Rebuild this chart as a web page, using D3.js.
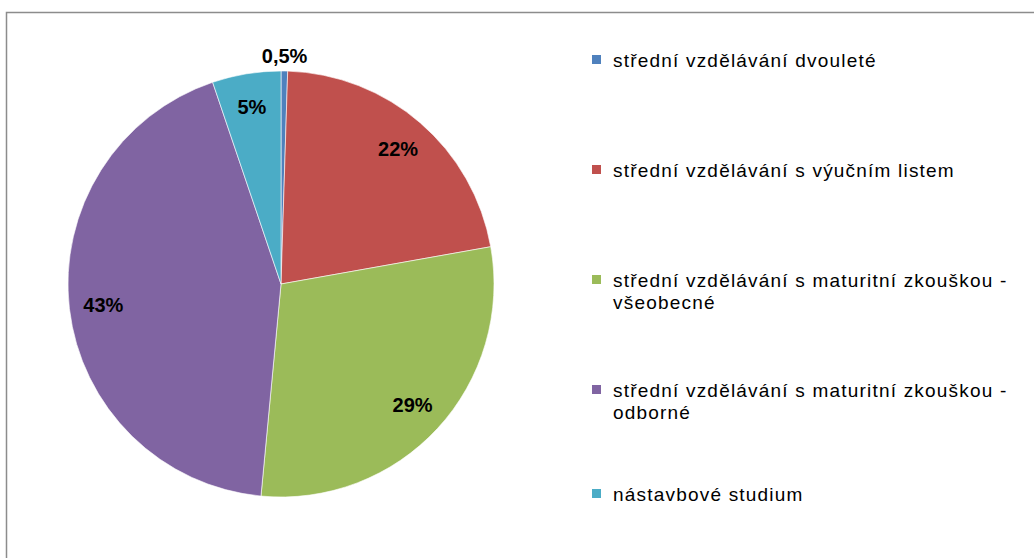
<!DOCTYPE html>
<html>
<head>
<meta charset="utf-8">
<script src="https://cdn.jsdelivr.net/npm/d3@7"></script>
<style>
  body { margin: 0; background: #fff; }
</style>
</head>
<body>
<div id="chart"></div>
<script>
const categories = [
  "střední vzdělávání dvouleté",
  "střední vzdělávání s výučním listem",
  "střední vzdělávání s maturitní zkouškou - všeobecné",
  "střední vzdělávání s maturitní zkouškou - odborné",
  "nástavbové studium"
];
const legendLines = [
  ["střední vzdělávání dvouleté"],
  ["střední vzdělávání s výučním listem"],
  ["střední vzdělávání s maturitní zkouškou -", "všeobecné"],
  ["střední vzdělávání s maturitní zkouškou -", "odborné"],
  ["nástavbové studium"]
];
const values = [0.5, 21.7, 29.3, 43.3, 5.2];
const labels = ["0,5%", "22%", "29%", "43%", "5%"];
const colors = ["#4f81bd", "#c0504d", "#9bbb59", "#8064a2", "#4bacc6"];

const width = 1034;
const height = 558;
const cx = 281, cy = 284, radius = 213;

const svg = d3.select("#chart").append("svg")
  .attr("width", width)
  .attr("height", height);

// frame
svg.append("rect")
  .attr("x", 6.5)
  .attr("y", 12.5)
  .attr("width", width + 20)
  .attr("height", height + 20)
  .style("fill", "#fff")
  .style("stroke", "#8c8c8c")
  .style("stroke-width", 1.5);

const data = categories.map((c, i) => ({ name: c, value: values[i], label: labels[i], color: colors[i] }));

const pie = d3.pie().sort(null).value(d => d.value);
const arc = d3.arc().innerRadius(0).outerRadius(radius);
const labelArc = d3.arc().innerRadius(radius * 0.84).outerRadius(radius * 0.84);
const outerArc = d3.arc().innerRadius(radius * 1.07).outerRadius(radius * 1.07);

const g = svg.append("g").attr("transform", `translate(${cx},${cy})`);
const arcs = pie(data);

g.selectAll("path")
  .data(arcs)
  .enter().append("path")
  .attr("d", arc)
  .style("fill", d => d.data.color)
  .style("stroke", "#fff")
  .style("stroke-width", 0.6);

g.selectAll(".lbl")
  .data(arcs)
  .enter().append("text")
  .attr("class", "lbl")
  .attr("transform", d => {
    const p = d.data.value < 2 ? outerArc.centroid(d) : labelArc.centroid(d);
    return `translate(${p[0]},${p[1]})`;
  })
  .attr("text-anchor", "middle")
  .attr("dy", "0.35em")
  .style("font-family", "'Liberation Sans', Arial, sans-serif")
  .style("font-size", "20px")
  .style("font-weight", "bold")
  .style("fill", "#000")
  .text(d => d.data.label);

// legend
const legendY = [60, 170, 280, 390, 494];
const legend = svg.append("g").attr("transform", "translate(592,0)");
const item = legend.selectAll(".item")
  .data(data)
  .enter().append("g")
  .attr("class", "item")
  .attr("transform", (d, i) => `translate(0,${legendY[i]})`);

item.append("rect")
  .attr("x", 0)
  .attr("y", -5)
  .attr("width", 9)
  .attr("height", 9)
  .style("fill", d => d.color);

item.append("text")
  .attr("x", 21)
  .attr("y", 0)
  .style("font-family", "'Liberation Sans', Arial, sans-serif")
  .style("font-size", "19px")
  .style("letter-spacing", "1.2px")
  .style("fill", "#000")
  .each(function (d, i) {
    const t = d3.select(this);
    legendLines[i].forEach((line, j) => {
      t.append("tspan")
        .attr("x", 21)
        .attr("dy", j === 0 ? "0.35em" : "22px")
        .text(line);
    });
  });
</script>
</body>
</html>
